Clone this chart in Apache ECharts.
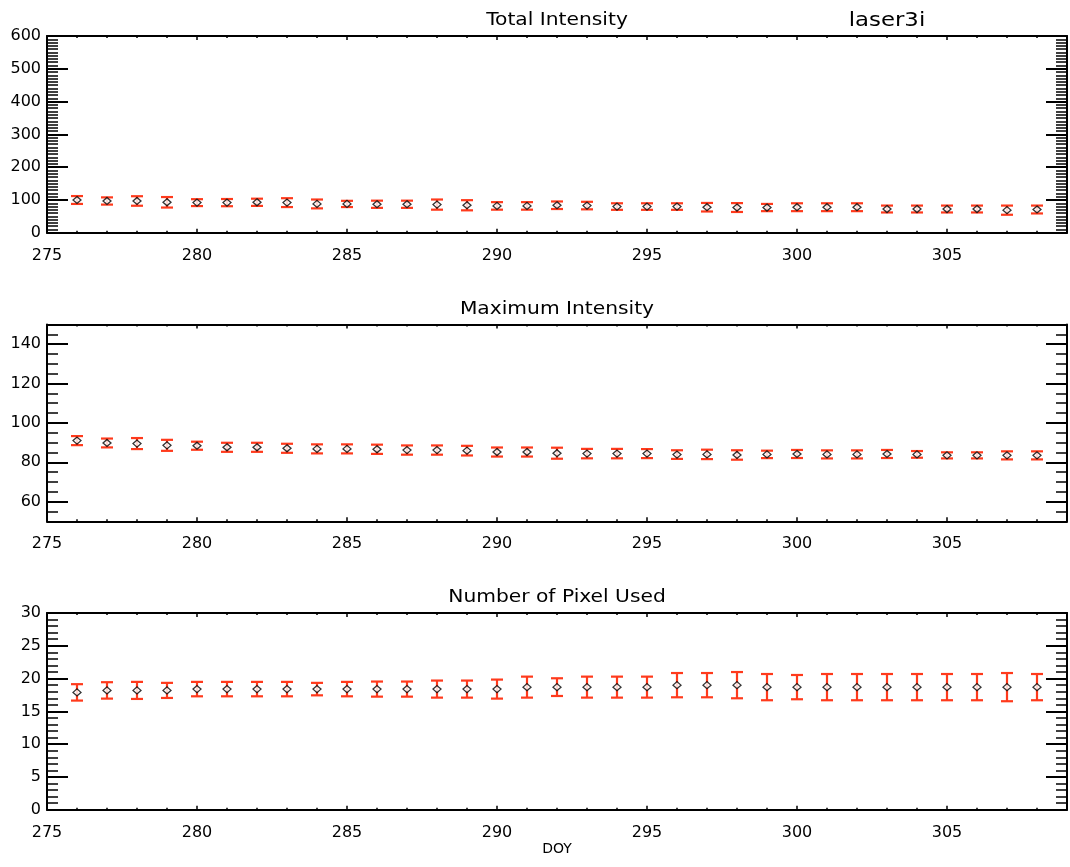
<!DOCTYPE html>
<html>
<head>
<meta charset="utf-8">
<title>laser3i</title>
<script src="https://cdn.jsdelivr.net/npm/echarts@6/dist/echarts.min.js"></script>
<style>
  html, body { margin: 0; padding: 0; background: #fff; }
  #chart { width: 1070px; height: 867px; }
</style>
</head>
<body>
<div id="chart"></div>
<script>
// Day of year for every measurement
const doy = [276, 277, 278, 279, 280, 281, 282, 283, 284, 285, 286, 287, 288, 289, 290, 291, 292,
             293, 294, 295, 296, 297, 298, 299, 300, 301, 302, 303, 304, 305, 306, 307, 308];

// Total intensity and its 1-sigma spread
const totalIntensity = [100, 97, 97, 93, 92, 92, 93, 92, 88, 88, 87, 87, 86, 84, 82, 82, 84,
                        83, 80, 80, 80, 78, 77, 77, 78, 78, 78, 72.5, 72.5, 72.5, 72.5, 69, 71];
const totalSigma = [12, 11, 14.5, 16, 10.5, 11, 11, 13.5, 13.5, 9.5, 11, 11, 15.5, 15.5, 11.5, 11.5, 11.5,
                    11.5, 10, 10, 10, 13, 13.5, 11, 12, 12, 12, 10.5, 10.5, 10.5, 10.5, 14, 12];

// Maximum intensity and its 1-sigma spread
const maxIntensity = [91.0, 89.8, 89.5, 88.6, 88.4, 87.6, 87.6, 87.1, 86.8, 86.8, 86.6, 86.2, 86.2, 85.9, 85.2, 85.2, 84.6,
                      84.4, 84.4, 84.4, 83.9, 84.0, 83.7, 84.0, 84.2, 84.0, 84.0, 84.2, 84.0, 83.5, 83.5, 83.5, 83.5];
const maxSigma = [2.3, 2.25, 2.8, 2.8, 2.05, 2.3, 2.3, 2.3, 2.3, 2.3, 2.35, 2.35, 2.35, 2.45, 2.3, 2.3, 2.8,
                  2.4, 2.4, 2.3, 2.2, 2.4, 2.4, 1.9, 2.05, 2.05, 2.05, 2.05, 1.7, 1.55, 1.55, 2.05, 2.05];

// Number of pixels used and its 1-sigma spread
const pixelsUsed = [17.9, 18.2, 18.2, 18.2, 18.4, 18.4, 18.4, 18.4, 18.4, 18.4, 18.4, 18.4, 18.4, 18.4, 18.4, 18.7, 18.7,
                    18.7, 18.7, 18.7, 19.0, 19.0, 19.0, 18.7, 18.7, 18.7, 18.7, 18.7, 18.7, 18.7, 18.7, 18.7, 18.7];
const pixelsSigma = [1.25, 1.25, 1.3, 1.15, 1.1, 1.1, 1.1, 1.1, 0.95, 1.1, 1.15, 1.15, 1.3, 1.3, 1.45, 1.6, 1.35,
                     1.6, 1.6, 1.6, 1.85, 1.85, 2.0, 2.0, 1.85, 2.0, 2.0, 2.0, 2.0, 2.0, 2.0, 2.15, 2.0];

// Axis tick values
const xRange = [275, 309];
const xMajorTicks = [275, 280, 285, 290, 295, 300, 305];
const xMinorTicks = [276, 277, 278, 279, 281, 282, 283, 284, 286, 287, 288, 289, 291, 292, 293, 294,
                     296, 297, 298, 299, 301, 302, 303, 304, 306, 307, 308];

const panelTitles = ['Total Intensity', 'Maximum Intensity', 'Number of Pixel Used'];
const plotLabel = 'laser3i';
const xAxisName = 'DOY';

const RED = '#ff3a1c';
const FONT = 'DejaVu Sans';

function steps(from, to, step) {
  const out = [];
  for (let v = from; v <= to + 1e-9; v += step) out.push(Math.round(v * 1000) / 1000);
  return out;
}

const panels = [
  { title: panelTitles[0], y: totalIntensity, s: totalSigma, range: [0, 600],
    major: steps(0, 600, 100), minor: steps(0, 600, 10), top: 36 },
  { title: panelTitles[1], y: maxIntensity, s: maxSigma, range: [50, 150],
    major: steps(60, 140, 20), minor: steps(50, 150, 5), top: 324.5 },
  { title: panelTitles[2], y: pixelsUsed, s: pixelsSigma, range: [0, 30],
    major: steps(0, 30, 5), minor: steps(0, 30, 1), top: 613 }
];

const GRID_LEFT = 47, GRID_WIDTH = 1020, GRID_HEIGHT = 196.8;

const grids = [], xAxes = [], yAxes = [], series = [], graphics = [];

const lineStyle = { color: '#000', width: 2 };

panels.forEach((p, gi) => {
  grids.push({ left: GRID_LEFT, top: p.top, width: GRID_WIDTH, height: GRID_HEIGHT, containLabel: false });

  // x axes: bottom (labelled) and top, each with long and short ticks
  const xBase = { type: 'value', gridIndex: gi, min: xRange[0], max: xRange[1], splitLine: { show: false } };
  const xMainIndex = xAxes.length;
  xAxes.push(Object.assign({}, xBase, {
    position: 'bottom',
    axisLine: { show: true, onZero: false, lineStyle },
    axisTick: { show: true, inside: true, length: 4, customValues: xMajorTicks, lineStyle: { color: '#000', width: 1.5 } },
    axisLabel: { show: true, customValues: xMajorTicks, margin: 15, color: '#000', fontSize: 16, fontFamily: FONT }
  }));
  xAxes.push(Object.assign({}, xBase, {
    position: 'bottom',
    axisLine: { show: false, onZero: false },
    axisTick: { show: true, inside: true, length: 2, customValues: xMinorTicks, lineStyle: { color: '#000', width: 1.5 } },
    axisLabel: { show: false }
  }));
  xAxes.push(Object.assign({}, xBase, {
    position: 'top',
    axisLine: { show: true, onZero: false, lineStyle },
    axisTick: { show: true, inside: true, length: 4, customValues: xMajorTicks, lineStyle: { color: '#000', width: 1.5 } },
    axisLabel: { show: false }
  }));
  xAxes.push(Object.assign({}, xBase, {
    position: 'top',
    axisLine: { show: false, onZero: false },
    axisTick: { show: true, inside: true, length: 2, customValues: xMinorTicks, lineStyle: { color: '#000', width: 1.5 } },
    axisLabel: { show: false }
  }));
  if (gi === panels.length - 1) {
    xAxes[xMainIndex].name = xAxisName;
    xAxes[xMainIndex].nameLocation = 'middle';
    xAxes[xMainIndex].nameGap = 33;
    xAxes[xMainIndex].nameTextStyle = { color: '#000', fontSize: 14, fontFamily: FONT };
  }

  // y axes: left (labelled) and right, each with long and short ticks
  const yBase = { type: 'value', gridIndex: gi, min: p.range[0], max: p.range[1], splitLine: { show: false } };
  const yMainIndex = yAxes.length;
  yAxes.push(Object.assign({}, yBase, {
    position: 'left',
    axisLine: { show: true, onZero: false, lineStyle },
    axisTick: { show: true, inside: true, length: 21, customValues: p.major, lineStyle: { color: '#000', width: 2 } },
    axisLabel: { show: true, customValues: p.major, margin: 6, color: '#000', fontSize: 16, fontFamily: FONT }
  }));
  yAxes.push(Object.assign({}, yBase, {
    position: 'left',
    axisLine: { show: false, onZero: false },
    axisTick: { show: true, inside: true, length: 11, customValues: p.minor, lineStyle: { color: '#000', width: 1.5 } },
    axisLabel: { show: false }
  }));
  yAxes.push(Object.assign({}, yBase, {
    position: 'right',
    axisLine: { show: true, onZero: false, lineStyle },
    axisTick: { show: true, inside: true, length: 21, customValues: p.major, lineStyle: { color: '#000', width: 2 } },
    axisLabel: { show: false }
  }));
  yAxes.push(Object.assign({}, yBase, {
    position: 'right',
    axisLine: { show: false, onZero: false },
    axisTick: { show: true, inside: true, length: 11, customValues: p.minor, lineStyle: { color: '#000', width: 1.5 } },
    axisLabel: { show: false }
  }));

  // error bars (value ± sigma) drawn with caps
  series.push({
    type: 'custom',
    xAxisIndex: xMainIndex,
    yAxisIndex: yMainIndex,
    data: doy.map((d, i) => [d, p.y[i] - p.s[i], p.y[i] + p.s[i]]),
    renderItem(params, api) {
      const x = api.value(0);
      const lo = api.coord([x, api.value(1)]);
      const hi = api.coord([x, api.value(2)]);
      const cap = 6;
      const style = { stroke: RED, lineWidth: 2.2 };
      return {
        type: 'group',
        children: [
          { type: 'line', shape: { x1: hi[0], y1: hi[1], x2: lo[0], y2: lo[1] }, style },
          { type: 'line', shape: { x1: hi[0] - cap, y1: hi[1], x2: hi[0] + cap, y2: hi[1] }, style },
          { type: 'line', shape: { x1: lo[0] - cap, y1: lo[1], x2: lo[0] + cap, y2: lo[1] }, style }
        ]
      };
    },
    z: 2,
    silent: true
  });

  // measured values as open diamonds
  series.push({
    type: 'scatter',
    xAxisIndex: xMainIndex,
    yAxisIndex: yMainIndex,
    data: doy.map((d, i) => [d, p.y[i]]),
    symbol: 'diamond',
    symbolSize: [8, 7],
    itemStyle: { color: '#fff', borderColor: '#000', borderWidth: 1.3 },
    z: 3,
    silent: true
  });

  graphics.push({
    type: 'text',
    x: GRID_LEFT + GRID_WIDTH / 2,
    y: p.top - 15,
    scaleX: 1.19,
    style: { text: p.title, textAlign: 'center', textVerticalAlign: 'middle', font: '17px "DejaVu Sans"', fill: '#000' }
  });
});

graphics.push({
  type: 'text',
  x: 887,
  y: 21,
  scaleX: 1.2,
  style: { text: plotLabel, textAlign: 'center', textVerticalAlign: 'middle', font: '19px "DejaVu Sans"', fill: '#000' }
});

const chart = echarts.init(document.getElementById('chart'), null, { renderer: 'canvas' });
chart.setOption({
  backgroundColor: '#fff',
  animation: false,
  textStyle: { fontFamily: FONT },
  grid: grids,
  xAxis: xAxes,
  yAxis: yAxes,
  series,
  graphic: graphics
});
</script>
</body>
</html>
